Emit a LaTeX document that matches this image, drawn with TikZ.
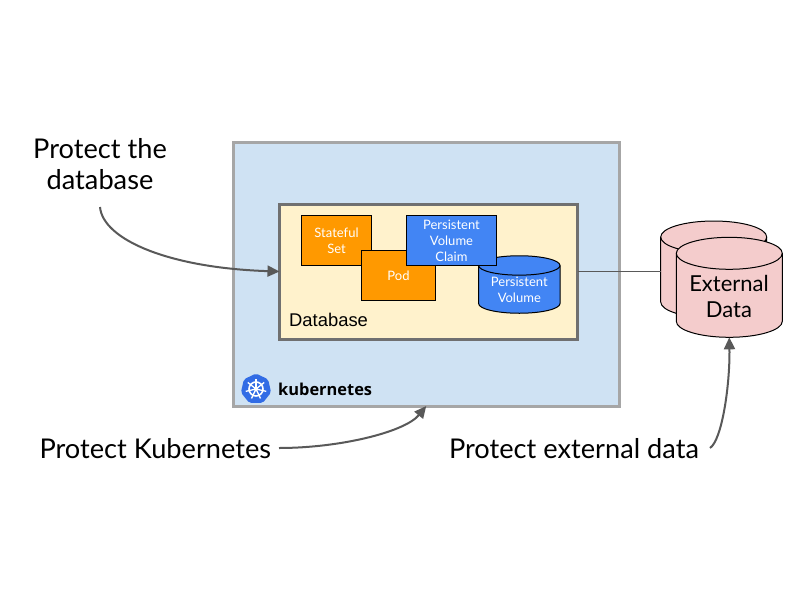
\documentclass[tikz,border=0pt]{standalone}
\usepackage{fontspec}
\setmainfont{Lato}
\newfontfamily\arialf{Liberation Sans}
\newfontfamily\logof{Open Sans}
\usetikzlibrary{shapes.geometric,arrows.meta}
\definecolor{kubefill}{HTML}{CFE2F3}
\definecolor{dbfill}{HTML}{FFF2CC}
\definecolor{orangebox}{HTML}{FF9900}
\definecolor{bluebox}{HTML}{4285F4}
\definecolor{pinkfill}{HTML}{F4CCCC}
\definecolor{kubeblue}{HTML}{326CE5}
\definecolor{linegray}{HTML}{595959}
\newcommand{\drawcyl}[4]{%
  \draw[black,line width=1pt,fill=#2] ([yshift=-#4]#1.north west) -- ([yshift=#4]#1.south west)
    arc[start angle=180,end angle=360,x radius=#3,y radius=#4]
    -- ([yshift=-#4]#1.north east)
    arc[start angle=0,end angle=180,x radius=#3,y radius=#4] -- cycle;
  \draw[black,line width=1pt] ([yshift=-#4]#1.north west)
    arc[start angle=180,end angle=360,x radius=#3,y radius=#4];
}
\tikzset{
  panel/.style={draw,line width=3pt,inner sep=0pt,outer sep=0pt},
  compbox/.style={draw=black,line width=1pt,inner sep=0pt,outer sep=0pt,align=center,text=white,font=\fontsize{13}{16}\selectfont},
  cylbox/.style={inner sep=0pt,outer sep=0pt,align=center},
  bigtext/.style={inner sep=0pt,outer sep=0pt,align=center,text=black,font=\fontsize{27.2}{31}\selectfont},
  callout/.style={draw=linegray,line width=2pt,-{Triangle[length=12pt,width=11pt]}},
}
\begin{document}
\begin{tikzpicture}[x=1pt,y=-1pt]
\useasboundingbox (0,0) rectangle (800,600);
\fill[white] (0,0) rectangle (800,600);

\node[panel,draw=black!35,fill=kubefill,minimum width=385.5pt,minimum height=264pt,anchor=north west] (kube) at (233.5,142) {};
\node[panel,draw=black!56,fill=dbfill,minimum width=298pt,minimum height=135pt,anchor=north west] (db) at (279.5,204) {};

\node[compbox,fill=orangebox,minimum width=70pt,minimum height=50pt,anchor=north west] (sts) at (301.5,215.5) {Stateful\\Set};
\node[compbox,fill=orangebox,minimum width=74pt,minimum height=50pt,anchor=north west] (pod) at (361.5,250.5) {Pod};

\node[cylbox,minimum width=81.4pt,minimum height=57.5pt] (pv) at (519.3,284.5) {};
\drawcyl{pv}{bluebox}{40.7pt}{9.7pt}
\node[compbox,fill=bluebox,minimum width=90pt,minimum height=50pt,anchor=north west] (pvc) at (406.5,215.5) {Persistent\\Volume\\Claim};
\node[text=white,align=center,inner sep=0pt,font=\fontsize{13}{16}\selectfont] (pvlabel) at (519.3,290) {Persistent\\Volume};
\node[inner sep=0pt,anchor=base west,font=\arialf\fontsize{18.4}{22}\selectfont] (dblabel) at (289,326) {Database};

\node[cylbox,minimum width=106pt,minimum height=97pt] (extback) at (713.7,269.5) {};
\drawcyl{extback}{pinkfill}{53pt}{16pt}
\node[cylbox,minimum width=106pt,minimum height=100pt] (ext) at (729.3,287.3) {};
\drawcyl{ext}{pinkfill}{53pt}{16pt}
\node[align=center,inner sep=0pt,font=\fontsize{22}{26}\selectfont] (extlabel) at (729,296) {External\\Data};

\draw[linegray,line width=1pt] (db.east) -- (db.east -| extback.west);

\node[regular polygon,regular polygon sides=7,fill=kubeblue,rounded corners=2pt,minimum size=31pt,inner sep=0pt] (logo) at (256,389) {};
\draw[white,line width=1.6pt] (logo.center) circle (7pt);
\foreach \a in {90,141.4,192.9,244.3,295.7,347.1,398.6}
  \draw[white,line width=1.3pt] (logo.center) -- ++(\a:10.5pt);
\fill[white] (logo.center) circle (2pt);
\node[inner sep=0pt,anchor=west,font=\logof\bfseries\fontsize{16.4}{20}\selectfont] (kubelabel) at (278,389) {kubernetes};

\node[bigtext] (ptd) at (100,164.5) {Protect the\\database};
\node[bigtext,anchor=west] (ptk) at (39.5,449) {Protect Kubernetes};
\node[bigtext,anchor=west] (pte) at (449,449) {Protect external data};

\coordinate (ptdstart) at (100,207);
\coordinate (ptkstart) at (279,448);
\coordinate (ptestart) at (710,448);
\draw[callout] (ptdstart) .. controls (103,240) and (170,268) .. (db.west);
\draw[callout] (ptkstart) .. controls (340,448) and (405,432) .. (kube.south);
\draw[callout] (ptestart) .. controls (722,440) and (730,385) .. (ext.south);
\end{tikzpicture}
\end{document}
